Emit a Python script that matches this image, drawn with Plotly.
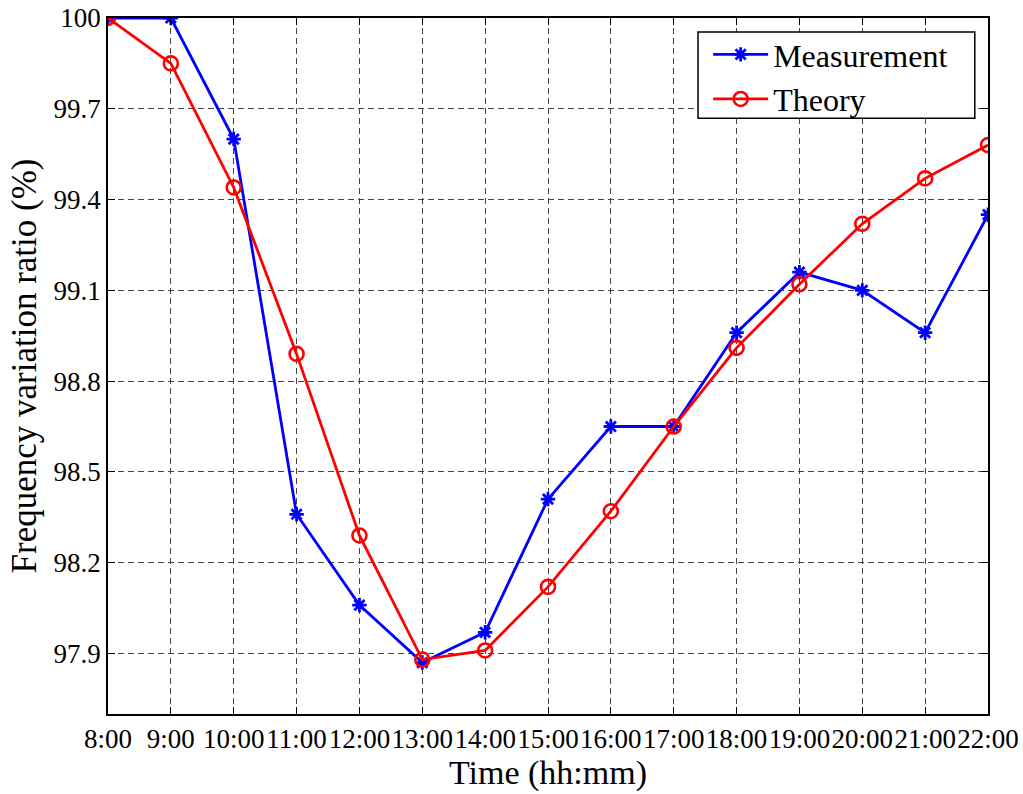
import plotly.graph_objects as go

# Hourly sampling times
time_labels = ["8:00", "9:00", "10:00", "11:00", "12:00", "13:00", "14:00", "15:00",
               "16:00", "17:00", "18:00", "19:00", "20:00", "21:00", "22:00"]

# Frequency variation ratio (%) for each hour
measurement = [100.0, 100.0, 99.60, 98.36, 98.06, 97.87, 97.97, 98.41,
               98.65, 98.65, 98.96, 99.16, 99.10, 98.96, 99.35]
theory = [100.0, 99.85, 99.44, 98.89, 98.29, 97.88, 97.91, 98.12,
          98.37, 98.65, 98.91, 99.12, 99.32, 99.47, 99.58]

# Y-axis ticks
y_ticks = [97.9, 98.2, 98.5, 98.8, 99.1, 99.4, 99.7, 100.0]
y_tick_text = ["97.9", "98.2", "98.5", "98.8", "99.1", "99.4", "99.7", "100"]

FONT = "Liberation Serif, Times New Roman, serif"

fig = go.Figure()
fig.add_trace(go.Scatter(
    x=time_labels, y=measurement, name="Measurement",
    mode="lines+markers",
    line=dict(color="#0000ff", width=2.8),
    marker=dict(symbol="asterisk-open", size=12, color="#0000ff",
                line=dict(color="#0000ff", width=2.8)),
))
fig.add_trace(go.Scatter(
    x=time_labels, y=theory, name="Theory",
    mode="lines+markers",
    line=dict(color="#ff0000", width=2.8),
    marker=dict(symbol="circle-open", size=14, color="#ff0000",
                line=dict(color="#ff0000", width=2.6)),
))

axis_common = dict(
    showline=True, linecolor="black", linewidth=1.5, mirror="ticks",
    ticks="inside", ticklen=7, tickwidth=1, tickcolor="black",
    showgrid=True, gridcolor="#444444", gridwidth=1, griddash="6px,4px",
    zeroline=False, automargin=False,
    tickfont=dict(family=FONT, size=27, color="black"),
)

fig.update_xaxes(
    **axis_common,
    type="category", range=[0, len(time_labels) - 1], tickangle=0,
    title=dict(text="Time (hh:mm)", font=dict(family=FONT, size=34, color="black"),
               standoff=4),
)
fig.update_yaxes(
    **axis_common,
    range=[97.7, 100.0], tickmode="array", tickvals=y_ticks, ticktext=y_tick_text,
    title=dict(text="Frequency variation ratio (%)",
               font=dict(family=FONT, size=35, color="black"), standoff=6),
)

# Legend frame (white box with black outline, upper right of the axes)
fig.add_shape(
    type="rect", xref="paper", yref="paper",
    x0=0.6705, x1=0.985, y0=0.856, y1=0.980,
    line=dict(color="black", width=1.5), fillcolor="white", layer="above",
)

fig.update_layout(
    width=1023, height=794,
    margin=dict(l=108, r=35, t=18, b=80),
    paper_bgcolor="white", plot_bgcolor="white",
    showlegend=True,
    legend=dict(
        x=0.682, y=0.987, xanchor="left", yanchor="top",
        bgcolor="rgba(0,0,0,0)", borderwidth=0,
        font=dict(family=FONT, size=32, color="black"),
        tracegroupgap=0, itemwidth=55,
    ),
)

fig.write_html("out.html")
